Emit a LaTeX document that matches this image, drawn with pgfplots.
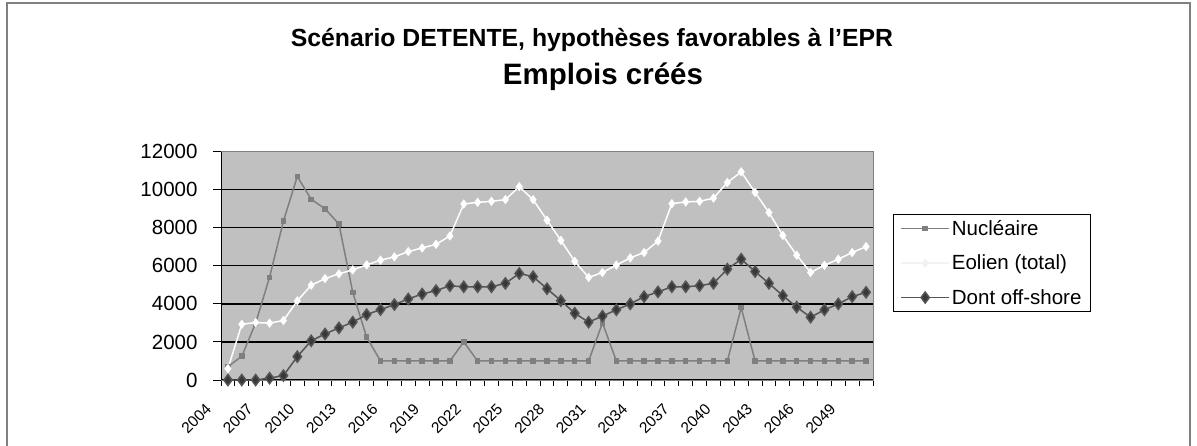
\documentclass[border=0pt]{standalone}
\usepackage{fontspec}
\setmainfont{Liberation Sans}
\usepackage{pgfplots}
\pgfplotsset{compat=1.18}
\usepackage{pgfplotstable}
\definecolor{plotbg}{HTML}{C0C0C0}
\definecolor{nuccol}{HTML}{7F7F7F}
\definecolor{offline}{HTML}{555555}
\definecolor{offfill}{HTML}{383838}
\definecolor{frame}{HTML}{808080}
\definecolor{eolleg}{HTML}{F2F2F2}

\pgfplotstableread{
i nuc eol off
0 700 600 0
1 1250 2930 0
2 3000 3020 0
3 5400 2990 100
4 8350 3130 230
5 10700 4160 1230
6 9500 4980 2060
7 9000 5330 2420
8 8200 5580 2740
9 4600 5790 3040
10 2250 6050 3440
11 1000 6300 3700
12 1000 6470 3965
13 1000 6750 4260
14 1000 6940 4520
15 1000 7130 4700
16 1000 7570 4950
17 2000 9250 4900
18 1000 9340 4900
19 1000 9390 4900
20 1000 9480 5080
21 1000 10160 5600
22 1000 9480 5430
23 1000 8400 4800
24 1000 7340 4170
25 1000 6240 3510
26 1000 5390 3040
27 3000 5650 3360
28 1000 6040 3690
29 1000 6420 4000
30 1000 6700 4380
31 1000 7300 4630
32 1000 9270 4900
33 1000 9360 4900
34 1000 9390 4960
35 1000 9560 5080
36 1000 10380 5830
37 3800 10940 6350
38 1000 9860 5700
39 1000 8800 5080
40 1000 7600 4430
41 1000 6560 3830
42 1000 5650 3300
43 1000 6030 3690
44 1000 6350 4000
45 1000 6700 4380
46 1000 7010 4610
}\data

\begin{document}
\begin{tikzpicture}
\useasboundingbox (0,0) rectangle (1197pt,445pt);
\fill[white] (0,0) rectangle (1197pt,445pt);
\draw[frame, line width=1.5pt] (7pt,-2pt) -- (7pt,442pt) -- (1190pt,442pt) -- (1190pt,-2pt);
\node[font=\bfseries\fontsize{24.8}{29}\selectfont] at (592pt,405pt) {Scénario DETENTE, hypothèses favorables à l'EPR};
\node[font=\bfseries\fontsize{29.5}{34}\selectfont] at (603pt,368pt) {Emplois créés};
\begin{axis}[
  at={(221pt,65pt)}, anchor=south west,
  scale only axis, width=652pt, height=228.3pt,
  xmin=-0.5, xmax=46.5, ymin=0, ymax=12000,
  axis background/.style={fill=plotbg},
  axis line style={draw=frame, line width=1pt},
  ymajorgrids, grid style={black, line width=1.2pt},
  ytick={0,2000,...,12000},
  scaled y ticks=false,
  xtick={0,3,...,45},
  xticklabels={2004,2007,2010,2013,2016,2019,2022,2025,2028,2031,2034,2037,2040,2043,2046,2049},
  minor xtick={-0.5,0.5,...,46.5},
  xtick pos=bottom, ytick pos=left,
  tick align=outside,
  x tick style={draw=none},
  minor x tick style={draw=black, line width=1pt},
  minor tick length=6pt,
  y tick style={black, line width=1pt},
  major tick length=8pt,
  /pgf/number format/assume math mode=true,
  /pgf/number format/1000 sep={},
  y tick label style={font=\fontsize{20.5}{24}\selectfont, xshift=-12pt},
  x tick label style={font=\fontsize{15.5}{18}\selectfont, xshift=-17pt, yshift=-16pt, rotate=45, anchor=east},
  legend style={at={(1.0307,0.727)}, anchor=north west, draw=black, line width=0.8pt, fill=white,
    font=\fontsize{20.5}{24}\selectfont, row sep=14pt, inner xsep=7pt, inner ysep=4pt},
  legend cell align=left,
  legend image code/.code={\draw[mark repeat=2,mark phase=2,#1] plot coordinates {(0pt,0pt) (24pt,0pt) (48pt,0pt)};},
]
\addplot[nuccol, line width=1.5pt, mark=square*, mark size=2pt, mark options={fill=nuccol, draw=nuccol}] table[x=i,y=nuc] {\data};
\addlegendentry{Nucléaire}
\addplot[white, line width=1.5pt, mark=diamond*, mark size=3.5pt, mark options={fill=white, draw=white}, forget plot] table[x=i,y=eol] {\data};
\addlegendimage{eolleg, line width=1.5pt, mark=diamond*, mark size=3.5pt, mark options={fill=eolleg, draw=eolleg}}
\addlegendentry{Eolien (total)}
\addplot[offline, line width=1.5pt, mark=diamond*, mark size=5.5pt, mark options={fill=offfill, draw=offline}] table[x=i,y=off] {\data};
\addlegendentry{Dont off-shore}
\draw[black, line width=1.2pt] (rel axis cs:0,0) -- (rel axis cs:0,1);
\end{axis}
\end{tikzpicture}
\end{document}
